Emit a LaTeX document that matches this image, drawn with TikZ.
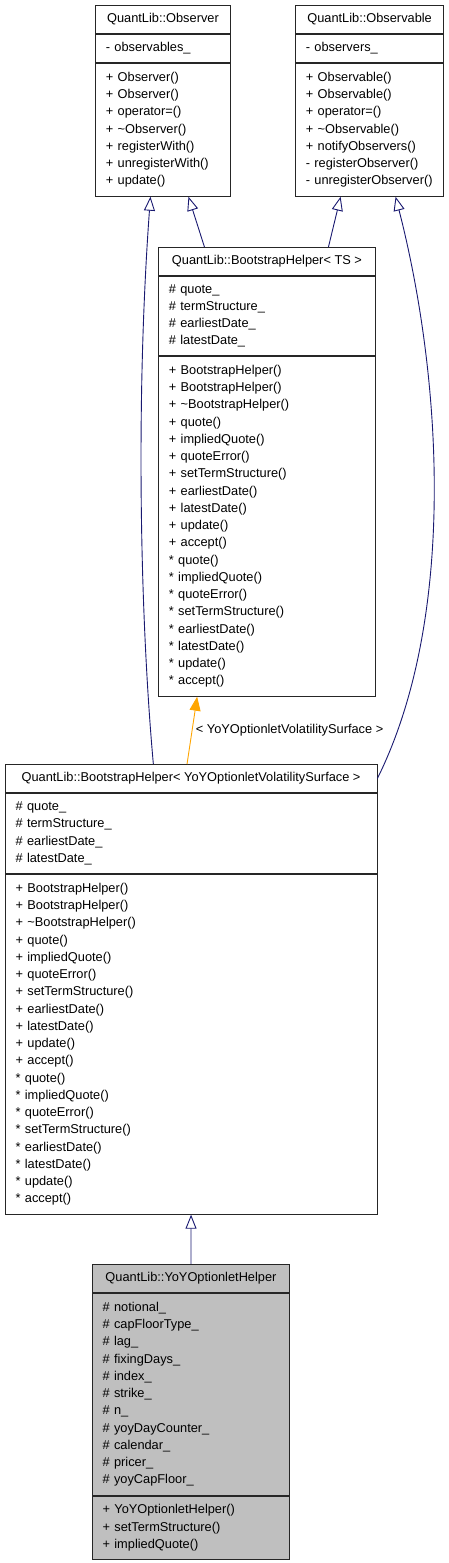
\documentclass[tikz,border=0pt]{standalone}
\usepackage{fontspec}
\setmainfont{Liberation Sans}
\usetikzlibrary{arrows.meta,positioning}

\definecolor{edgenavy}{RGB}{25,25,112}
\definecolor{edgeorange}{RGB}{255,165,0}
\definecolor{focusgrey}{RGB}{191,191,191}

\begin{document}
\begin{tikzpicture}[x=1pt, y=-1pt,
    cell/.style={draw=black!85, fill=white, line width=0.9pt, inner xsep=10.5pt,
      inner ysep=0pt, font=\fontsize{12.8}{17.25}\selectfont},
    headcell/.style={cell, align=center, minimum height=28pt},
    membercell/.style={cell, align=left},
    inherit/.style={draw=edgenavy, line width=0.9pt,
      -{Triangle[open, length=14pt, width=11pt]}},
    tmplarrow/.style={draw=edgeorange, line width=0.9pt,
      -{Triangle[length=14pt, width=11pt, fill=edgeorange]}}
  ]
    \useasboundingbox (0,0) rectangle (448,1563);

    % Observer
    \node[headcell, anchor=north west, minimum width=135pt] (obs) at (95,5) {QuantLib::Observer};
    \node[membercell, text width=114pt, minimum height=28pt, below=0pt of obs] (obsattr)
      {- observables\_};
    \node[membercell, text width=114pt, minimum height=133pt, below=0pt of obsattr] (obsops)
      {+ Observer()\\+ Observer()\\+ operator=()\\+ \textasciitilde Observer()\\+ registerWith()\\+ unregisterWith()\\+ update()};

    % Observable
    \node[headcell, anchor=north west, minimum width=148.3pt] (obl) at (295,5) {QuantLib::Observable};
    \node[membercell, text width=127.3pt, minimum height=28pt, below=0pt of obl] (oblattr)
      {- observers\_};
    \node[membercell, text width=127.3pt, minimum height=133pt, below=0pt of oblattr] (oblops)
      {+ Observable()\\+ Observable()\\+ operator=()\\+ \textasciitilde Observable()\\+ notifyObservers()\\- registerObserver()\\- unregisterObserver()};

    % BootstrapHelper< TS >
    \node[headcell, anchor=north west, minimum width=217pt] (bsh) at (158,247) {QuantLib::BootstrapHelper< TS >};
    \node[membercell, text width=196pt, minimum height=79pt, below=0pt of bsh] (bshattr)
      {\# quote\_\\\# termStructure\_\\\# earliestDate\_\\\# latestDate\_};
    \node[membercell, text width=196pt, minimum height=340pt, below=0pt of bshattr] (bshops)
      {+ BootstrapHelper()\\+ BootstrapHelper()\\+ \textasciitilde BootstrapHelper()\\+ quote()\\+ impliedQuote()\\+ quoteError()\\+ setTermStructure()\\+ earliestDate()\\+ latestDate()\\+ update()\\+ accept()\\{*} quote()\\{*} impliedQuote()\\{*} quoteError()\\{*} setTermStructure()\\{*} earliestDate()\\{*} latestDate()\\{*} update()\\{*} accept()};

    % BootstrapHelper< YoYOptionletVolatilitySurface >
    \node[headcell, anchor=north west, minimum width=371.8pt] (ybsh) at (4.7,764) {QuantLib::BootstrapHelper< YoYOptionletVolatilitySurface >};
    \node[membercell, text width=350.8pt, minimum height=80pt, below=0pt of ybsh] (ybshattr)
      {\# quote\_\\\# termStructure\_\\\# earliestDate\_\\\# latestDate\_};
    \node[membercell, text width=350.8pt, minimum height=340pt, below=0pt of ybshattr] (ybshops)
      {+ BootstrapHelper()\\+ BootstrapHelper()\\+ \textasciitilde BootstrapHelper()\\+ quote()\\+ impliedQuote()\\+ quoteError()\\+ setTermStructure()\\+ earliestDate()\\+ latestDate()\\+ update()\\+ accept()\\{*} quote()\\{*} impliedQuote()\\{*} quoteError()\\{*} setTermStructure()\\{*} earliestDate()\\{*} latestDate()\\{*} update()\\{*} accept()};

    % YoYOptionletHelper
    \node[headcell, fill=focusgrey, anchor=north west, minimum width=197.6pt] (yoh) at (91.7,1264) {QuantLib::YoYOptionletHelper};
    \node[membercell, fill=focusgrey, text width=176.6pt, minimum height=202pt, below=0pt of yoh] (yohattr)
      {\# notional\_\\\# capFloorType\_\\\# lag\_\\\# fixingDays\_\\\# index\_\\\# strike\_\\\# n\_\\\# yoyDayCounter\_\\\# calendar\_\\\# pricer\_\\\# yoyCapFloor\_};
    \node[membercell, fill=focusgrey, text width=176.6pt, minimum height=63pt, below=0pt of yohattr] (yohops)
      {+ YoYOptionletHelper()\\+ setTermStructure()\\+ impliedQuote()};

    \draw[inherit] ([xshift=-62.5pt]bsh.north) -- ([xshift=25.5pt]obsops.south);
    \draw[inherit] ([xshift=61.5pt]bsh.north) -- ([xshift=-29pt]oblops.south);
    \draw[inherit] ([xshift=-37.7pt]ybsh.north) .. controls +(-13,-144) and +(-15,206) .. ([xshift=-12.5pt]obsops.south);
    \draw[inherit] (ybsh.east) .. controls +(78.5,-158) and +(47.6,186) .. ([xshift=26pt]oblops.south);
    \draw[tmplarrow] ([xshift=-4pt]ybsh.north) -- ([xshift=-69.8pt]bshops.south)
      node[midway, right, font=\fontsize{12.8}{17.25}\selectfont] {< YoYOptionletVolatilitySurface >};
    \draw[inherit] (yoh.north) -- (ybshops.south);
  \end{tikzpicture}
\end{document}
